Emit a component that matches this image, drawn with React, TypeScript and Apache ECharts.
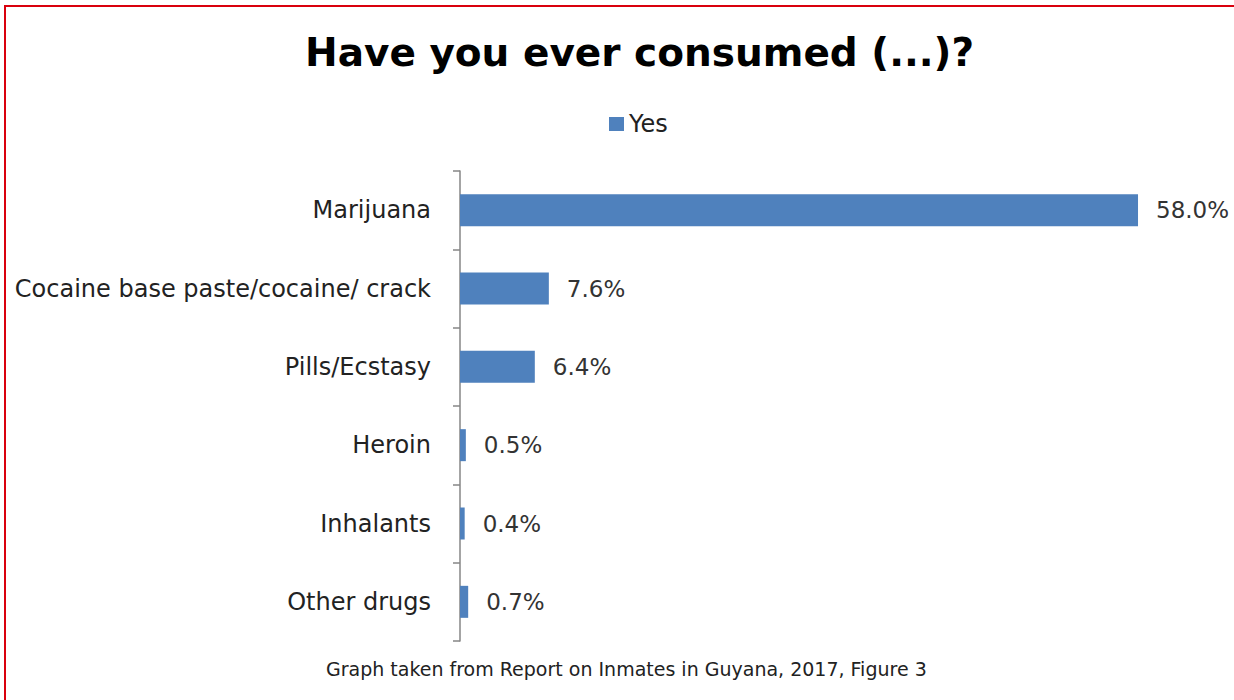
import React, { useEffect, useRef } from "react";
import * as echarts from "echarts";

const categories = [
  "Marijuana",
  "Cocaine base paste/cocaine/ crack",
  "Pills/Ecstasy",
  "Heroin",
  "Inhalants",
  "Other drugs",
];
const yesValues = [58.0, 7.6, 6.4, 0.5, 0.4, 0.7];
const titleText = "Have you ever consumed (...)?";
const seriesName = "Yes";
const footnote = "Graph taken from Report on Inmates in Guyana, 2017, Figure 3";

const FONT = "'DejaVu Sans', 'Noto Sans', sans-serif";

export default function App() {
  const ref = useRef<HTMLDivElement>(null);
  useEffect(() => {
    const chart = echarts.init(ref.current!, undefined, { renderer: "svg" });
    chart.setOption({
      animation: false,
      backgroundColor: "#ffffff",
      title: {
        text: titleText,
        left: 300,
        top: 28,
        textStyle: { fontFamily: FONT, fontSize: 39, fontWeight: "bold", color: "#000000" },
      },
      legend: {
        data: [seriesName],
        top: 107,
        left: 604,
        itemWidth: 15,
        itemHeight: 14,
        itemGap: 10,
        icon: "rect",
        textStyle: { fontFamily: FONT, fontSize: 24, color: "#222222" },
      },
      grid: { left: 460, top: 171, width: 701.4, height: 470 },
      xAxis: {
        type: "value",
        min: 0,
        max: 60,
        show: false,
      },
      yAxis: {
        type: "category",
        data: categories,
        inverse: true,
        axisLine: { show: true, lineStyle: { color: "#868686", width: 1.5 } },
        axisTick: { show: true, length: 7, lineStyle: { color: "#868686", width: 1.5 } },
        axisLabel: { margin: 29, fontFamily: FONT, fontSize: 24, color: "#222222" },
        splitLine: { show: false },
      },
      series: [
        {
          name: seriesName,
          type: "bar",
          data: yesValues,
          barWidth: 32,
          itemStyle: { color: "#4F81BD" },
          label: {
            show: true,
            position: "right",
            distance: 18,
            formatter: (p: any) => p.value.toFixed(1) + "%",
            fontFamily: FONT,
            fontSize: 23,
            color: "#333333",
          },
        },
      ],
      graphic: [
        {
          type: "rect",
          shape: { x: 5, y: 6, width: 1245, height: 710 },
          style: { fill: "none", stroke: "#d9000d", lineWidth: 2 },
          silent: true,
        },
        {
          type: "text",
          left: 326,
          top: 659,
          style: { text: footnote, font: `19px ${FONT}`, fill: "#222222" },
        },
      ],
    });
    return () => chart.dispose();
  }, []);
  return (
    <div
      ref={ref}
      style={{ position: "fixed", left: 0, top: 0, width: 1234, height: 700 }}
    />
  );
}
